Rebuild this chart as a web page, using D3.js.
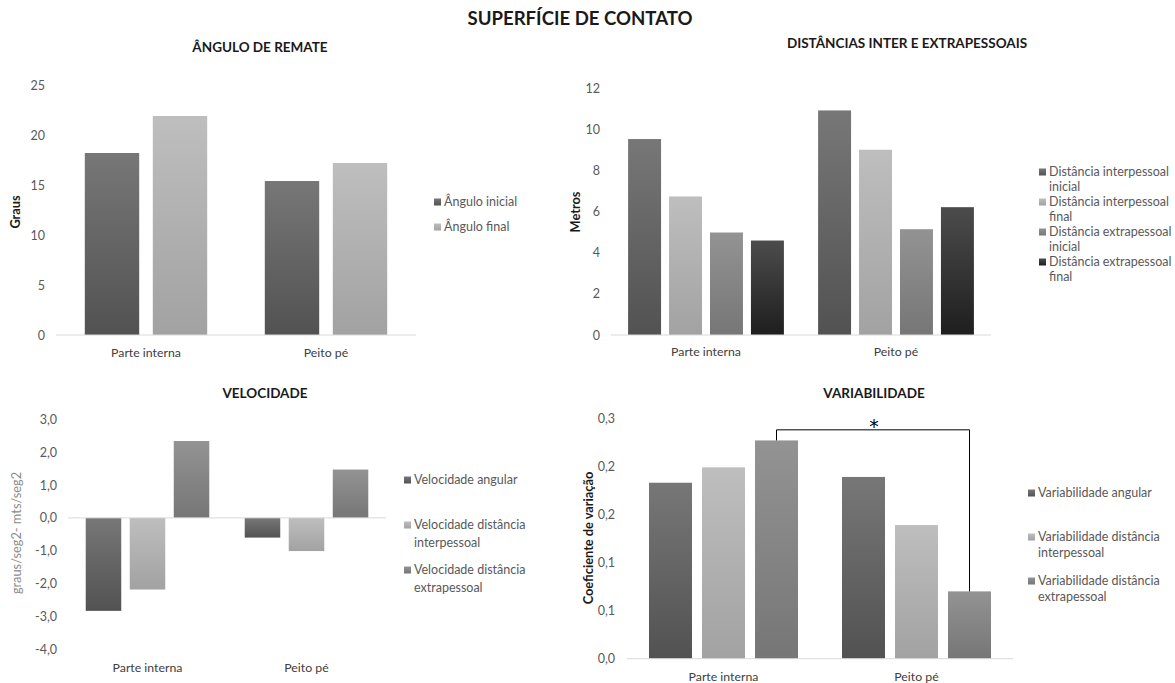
<!DOCTYPE html>
<html>
<head>
<meta charset="utf-8">
<script src="https://d3js.org/d3.v7.min.js"></script>
<style>
  body { margin: 0; background: #fff; }
  text { font-family: Lato, "Open Sans", sans-serif; }
</style>
</head>
<body>
<div id="vis"></div>
<script>
// categories shared by all four panels
const categories = ["Parte interna", "Peito pé"];

// ÂNGULO DE REMATE
const anguloSeries = ["Ângulo inicial", "Ângulo final"];
const anguloInicial = [18.2, 15.4];
const anguloFinal = [21.9, 17.2];
const anguloTicks = [0, 5, 10, 15, 20, 25];
const anguloTickLabels = ["0", "5", "10", "15", "20", "25"];

// DISTÂNCIAS INTER E EXTRAPESSOAIS
const distSeries = ["Distância interpessoal inicial", "Distância interpessoal final",
                    "Distância extrapessoal inicial", "Distância extrapessoal final"];
const distInterInicial = [9.52, 10.91];
const distInterFinal = [6.73, 9.0];
const distExtraInicial = [4.98, 5.14];
const distExtraFinal = [4.59, 6.21];
const distTicks = [0, 2, 4, 6, 8, 10, 12];
const distTickLabels = ["0", "2", "4", "6", "8", "10", "12"];

// VELOCIDADE
const velSeries = ["Velocidade angular", "Velocidade distância interpessoal", "Velocidade distância extrapessoal"];
const velAngular = [-2.83, -0.6];
const velInter = [-2.18, -1.01];
const velExtra = [2.34, 1.47];
const velTicks = [3, 2, 1, 0, -1, -2, -3, -4];
const velTickLabels = ["3,0", "2,0", "1,0", "0,0", "-1,0", "-2,0", "-3,0", "-4,0"];

// VARIABILIDADE
const varSeries = ["Variabilidade angular", "Variabilidade distância interpessoal", "Variabilidade distância extrapessoal"];
const varAngular = [0.183, 0.189];
const varInter = [0.199, 0.139];
const varExtra = [0.227, 0.070];
const varTicks = [0, 0.05, 0.1, 0.15, 0.2, 0.25];
const varTickLabels = ["0,0", "0,1", "0,1", "0,2", "0,2", "0,3"];
const varBracketLevel = 0.238;

const W = 1175, H = 683;
const svg = d3.select("#vis").append("svg").attr("width", W).attr("height", H);
const defs = svg.append("defs");

// gradient fills, like the office chart style
const fills = {
  dark:  ["#777777", "#525252"],
  light: ["#bebebe", "#a2a2a2"],
  mid:   ["#939393", "#767676"],
  black: ["#4c4c4c", "#1e1e1e"]
};
Object.entries(fills).forEach(([k, [c0, c1]]) => {
  const g = defs.append("linearGradient").attr("id", "g-" + k)
    .attr("x1", 0).attr("y1", 0).attr("x2", 0).attr("y2", 1);
  g.append("stop").attr("offset", "0%").attr("stop-color", c0);
  g.append("stop").attr("offset", "100%").attr("stop-color", c1);
});

svg.append("text")
  .attr("x", 580).attr("y", 18).attr("dy", "0.35em")
  .attr("text-anchor", "middle").attr("font-size", 18.6).attr("font-weight", 700)
  .attr("fill", "#1a1a1a").text("SUPERFÍCIE DE CONTATO");

function drawChart(cfg) {
  const g = svg.append("g");
  const x0 = d3.scaleBand().domain(categories).range(cfg.xRange)
    .paddingInner(cfg.groupPad).paddingOuter(cfg.groupPad / 2);
  const x1 = d3.scaleBand().domain(cfg.series).range([0, x0.bandwidth()])
    .paddingInner(cfg.barPad);
  const y = d3.scaleLinear().domain(cfg.yDomain).range(cfg.yRange);

  g.append("text")
    .attr("x", cfg.titleX).attr("y", cfg.titleY).attr("dy", "0.35em")
    .attr("text-anchor", "middle").attr("font-size", 13.5).attr("font-weight", 700)
    .attr("fill", "#1a1a1a").text(cfg.title);

  // y axis, labels only
  const ax = g.append("g").attr("transform", `translate(${cfg.tickX},0)`)
    .call(d3.axisLeft(y).tickValues(cfg.ticks).tickSize(0).tickPadding(0)
      .tickFormat((d, i) => cfg.tickLabels[i]));
  ax.select(".domain").remove();
  ax.selectAll("text").attr("font-size", 12.5).attr("fill", "#595959")
    .style("font-family", "Lato, sans-serif");

  g.append("text")
    .attr("transform", `translate(${cfg.yLabelX},${cfg.yLabelY}) rotate(-90)`)
    .attr("dy", "0.35em").attr("text-anchor", "middle")
    .attr("font-size", 12.8)
    .attr("font-weight", cfg.yLabelBold ? 700 : 400)
    .attr("fill", cfg.yLabelBold ? "#1a1a1a" : "#8c8c8c")
    .text(cfg.yLabel);

  // bars
  const rows = categories.map((c, i) => ({cat: c, vals: cfg.values.map(v => v[i])}));
  g.selectAll("g.grp").data(rows).join("g")
    .attr("transform", d => `translate(${x0(d.cat)},0)`)
    .selectAll("rect")
    .data(d => d.vals.map((v, j) => ({s: cfg.series[j], v, fill: cfg.fills[j]})))
    .join("rect")
    .attr("x", d => x1(d.s))
    .attr("width", x1.bandwidth())
    .attr("y", d => y(Math.max(0, d.v)))
    .attr("height", d => Math.abs(y(d.v) - y(0)))
    .attr("fill", d => `url(#g-${d.fill})`);

  // baseline
  g.append("line")
    .attr("x1", cfg.xRange[0]).attr("x2", cfg.xRange[1])
    .attr("y1", y(0)).attr("y2", y(0))
    .attr("stroke", "#d9d9d9").attr("stroke-width", 1);

  // category labels
  g.selectAll("text.cat").data(categories).join("text")
    .attr("class", "cat")
    .attr("x", d => x0(d) + x0.bandwidth() / 2)
    .attr("y", cfg.catY).attr("dy", "0.35em")
    .attr("text-anchor", "middle").attr("font-size", 12.3).attr("fill", "#404040")
    .text(d => d);

  // legend
  const lg = g.append("g");
  cfg.series.forEach((s, j) => {
    const yy = cfg.legY + j * cfg.legStep;
    lg.append("rect").attr("x", cfg.legX).attr("y", yy - 3.5)
      .attr("width", 7).attr("height", 7).attr("fill", `url(#g-${cfg.fills[j]})`);
    const t = lg.append("text").attr("x", cfg.legX + 10).attr("y", yy)
      .attr("font-size", 12.5).attr("fill", "#595959");
    // wrap words to the legend width
    const words = s.split(" ");
    let line = [];
    let tsp = t.append("tspan").attr("x", cfg.legX + 10).attr("dy", "0.35em");
    words.forEach(w => {
      line.push(w);
      tsp.text(line.join(" "));
      if (tsp.node().getComputedTextLength() > cfg.legWidth && line.length > 1) {
        line.pop();
        tsp.text(line.join(" "));
        line = [w];
        tsp = t.append("tspan").attr("x", cfg.legX + 10).attr("dy", cfg.legLine).text(w);
      }
    });
  });

  return {g, x0, x1, y};
}

drawChart({
  title: "ÂNGULO DE REMATE", titleX: 260, titleY: 47,
  series: anguloSeries, values: [anguloInicial, anguloFinal], fills: ["dark", "light"],
  xRange: [56, 416], groupPad: 0.32, barPad: 0.2,
  yDomain: [0, 25], yRange: [335, 85],
  ticks: anguloTicks, tickLabels: anguloTickLabels, tickX: 45,
  yLabel: "Graus", yLabelX: 16, yLabelY: 212, yLabelBold: true,
  catY: 353,
  legX: 434, legY: 202, legStep: 25, legLine: 15, legWidth: 150
});

drawChart({
  title: "DISTÂNCIAS INTER E EXTRAPESSOAIS", titleX: 907, titleY: 43,
  series: distSeries, values: [distInterInicial, distInterFinal, distExtraInicial, distExtraFinal],
  fills: ["dark", "light", "mid", "black"],
  xRange: [611, 991], groupPad: 0.18, barPad: 0.195,
  yDomain: [0, 12], yRange: [335, 88],
  ticks: distTicks, tickLabels: distTickLabels, tickX: 600,
  yLabel: "Metros", yLabelX: 576, yLabelY: 212, yLabelBold: true,
  catY: 352,
  legX: 1039, legY: 172, legStep: 30, legLine: 15, legWidth: 124
});

drawChart({
  title: "VELOCIDADE", titleX: 265, titleY: 393,
  series: velSeries, values: [velAngular, velInter, velExtra], fills: ["dark", "light", "mid"],
  xRange: [68, 386], groupPad: 0.223, barPad: 0.193,
  yDomain: [3, -4], yRange: [419.3, 649.3],
  ticks: velTicks, tickLabels: velTickLabels, tickX: 57,
  yLabel: "graus/seg2- mts/seg2", yLabelX: 17, yLabelY: 533, yLabelBold: false,
  catY: 668,
  legX: 404, legY: 480, legStep: 45, legLine: 17.5, legWidth: 125
});

const v = drawChart({
  title: "VARIABILIDADE", titleX: 874, titleY: 393,
  series: varSeries, values: [varAngular, varInter, varExtra], fills: ["dark", "light", "mid"],
  xRange: [627, 1013], groupPad: 0.228, barPad: 0.189,
  yDomain: [0, 0.25], yRange: [658.7, 418.3],
  ticks: varTicks, tickLabels: varTickLabels, tickX: 615,
  yLabel: "Coeficiente de variação", yLabelX: 589, yLabelY: 538, yLabelBold: true,
  catY: 677,
  legX: 1028, legY: 493, legStep: 44, legLine: 15.5, legWidth: 132
});

// significance bracket between the extrapessoal bars
const bx0 = v.x0(categories[0]) + v.x1(varSeries[2]) + v.x1.bandwidth() / 2;
const bx1 = v.x0(categories[1]) + v.x1(varSeries[2]) + v.x1.bandwidth() / 2;
const by = v.y(varBracketLevel);
v.g.append("path")
  .attr("d", `M${bx0},${v.y(varExtra[0])}V${by}H${bx1}V${v.y(varExtra[1])}`)
  .attr("fill", "none").attr("stroke", "#000").attr("stroke-width", 1);
v.g.append("text")
  .attr("x", (bx0 + bx1) / 2 + 1).attr("y", by + 3)
  .attr("text-anchor", "middle").attr("font-size", 19).attr("fill", "#000")
  .style("font-family", "DejaVu Sans, sans-serif")
  .text("*");
</script>
</body>
</html>
